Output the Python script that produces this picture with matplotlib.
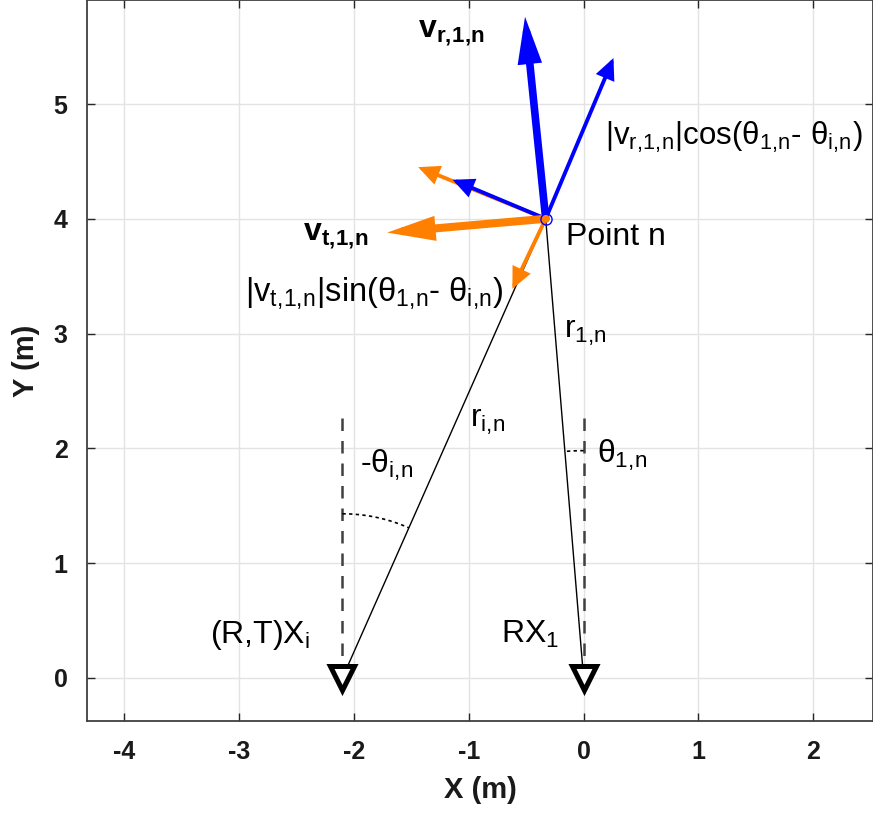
import numpy as np
import matplotlib
matplotlib.use('Agg')
import matplotlib.pyplot as plt

plt.rcParams['font.family'] = ['Liberation Sans', 'DejaVu Sans']
plt.rcParams['mathtext.fontset'] = 'custom'
plt.rcParams['mathtext.rm'] = 'Liberation Sans'
plt.rcParams['mathtext.it'] = 'Liberation Sans'
plt.rcParams['mathtext.sf'] = 'Liberation Sans'
plt.rcParams['mathtext.bf'] = 'Liberation Sans:bold'
plt.rcParams['axes.unicode_minus'] = False

# geometry (metres)
point_n = [-0.33, 4.0]
rx_x = [-2.10, 0.0]          # (R,T)X_i , RX_1
rx_y = [0.0, 0.0]
dash_top = 2.3
arc_radius = [1.43, 1.98]

# arrows drawn from Point n: dx, dy, colour, width
arrow_dx = [-1.11, -0.81, 0.59, -0.29, -0.18, -1.38]
arrow_dy = [0.45, 0.34, 1.40, -0.61, 1.76, -0.12]
arrow_col = ['#ff8000', 'blue', 'blue', '#ff8000', 'blue', '#ff8000']
arrow_lw = [2.8, 2.8, 2.8, 2.8, 5.5, 5.8]

# labels: text, x, y (baseline), size
labels = [
    (r'$\mathbf{v_{r,\!1,\!n}}$', -1.44, 5.58, 23),
    (r'$|v_{r,\!1,\!n}|$cos($θ_{1,\!n}$- $θ_{i,\!n}$)', 0.19, 4.64, 22.5),
    (r'$\mathbf{v_{t,\!1,\!n}}$', -2.44, 3.815, 23),
    (r'$|v_{t,\!1,\!n}|$sin($θ_{1,\!n}$- $θ_{i,\!n}$)', -2.95, 3.29, 23.5),
    ('Point n', -0.157, 3.77, 23),
    (r'$r_{1,\!n}$', -0.17, 2.96, 23),
    (r'$r_{i,\!n}$', -0.985, 2.19, 23),
    (r'-$θ_{i,\!n}$', -1.944, 1.79, 23),
    (r'$θ_{1,\!n}$', 0.113, 1.87, 23),
    (r'(R,T)X$_i$', -3.25, 0.305, 23),
    (r'RX$_1$', -0.72, 0.305, 23),
]

fig = plt.figure(figsize=(8.73, 8.14), dpi=100)
ax = fig.add_axes([87/873, 93/814, 786/873, 721/814])

# dashed verticals above receivers
for x in rx_x:
    ax.plot([x, x], [0, dash_top], color='#404040', lw=1.8, ls=(0, (5, 4)), zorder=2)

# range lines
for x, y in zip(rx_x, rx_y):
    ax.plot([x, point_n[0]], [y, point_n[1]], color='k', lw=1.0, zorder=3)

# dotted arcs for the angles
for x, y, r in zip(rx_x, rx_y, arc_radius):
    ang = np.arctan2(point_n[0] - x, point_n[1] - y)
    t = np.linspace(0, ang, 30)
    ax.plot(x + r*np.sin(t), y + r*np.cos(t), color='k', lw=1.2, ls=(0, (2, 2)), zorder=3)

# arrows
for dx, dy, c, lw in zip(arrow_dx, arrow_dy, arrow_col, arrow_lw):
    if lw > 4:
        style = '-|>,head_length=0.85,head_width=0.22'
        ms = 24
    else:
        style = '-|>,head_length=0.6,head_width=0.28'
        ms = 18
    ax.annotate('', xy=(point_n[0] + dx, point_n[1] + dy), xytext=(point_n[0], point_n[1]),
                arrowprops=dict(arrowstyle=style, color=c, lw=lw, mutation_scale=ms,
                                shrinkA=0, shrinkB=0, capstyle='round', joinstyle='miter'),
                zorder=4)

ax.plot(point_n[0], point_n[1], 'o', ms=8, mfc='none', mec='blue', mew=1.0, zorder=5)
ax.plot(rx_x, rx_y, 'v', ms=17, mfc='white', mec='k', mew=3.6, ls='none', zorder=5)

for txt, x, y, fs in labels:
    ax.text(x, y, txt, fontsize=fs, ha='left', va='baseline', zorder=6)

ax.set_xlim(-4.324, 2.52)
ax.set_ylim(-0.375, 5.906)
ax.set_xticks([-4, -3, -2, -1, 0, 1, 2])
ax.set_yticks([0, 1, 2, 3, 4, 5])
ax.grid(True, color='#e3e3e3', lw=1.0, zorder=0)
ax.set_axisbelow(True)
ax.tick_params(direction='in', length=6, width=1.0, top=True, right=True,
               labelsize=18, colors='#262626', pad=14)
ax.tick_params(labelcolor='#1a1a1a')
for lab in ax.get_xticklabels() + ax.get_yticklabels():
    lab.set_fontweight('bold')
for s in ax.spines.values():
    s.set_color('#404040')
    s.set_linewidth(1.3)

ax.set_xlabel('X (m)', fontsize=21, fontweight='bold', color='#1a1a1a', labelpad=8)
ax.set_ylabel('Y (m)', fontsize=21, fontweight='bold', color='#1a1a1a', labelpad=10)

fig.savefig('out.png', dpi=100)
